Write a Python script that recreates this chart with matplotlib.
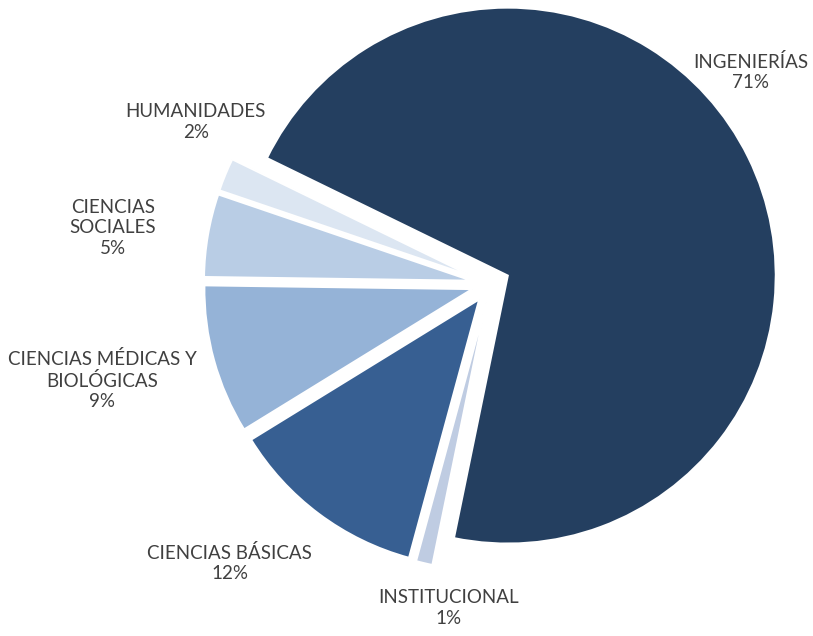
import matplotlib.pyplot as plt

plt.rcParams['font.family'] = ['Lato', 'DejaVu Sans']

labels = ['INGENIERÍAS', 'INSTITUCIONAL', 'CIENCIAS BÁSICAS',
          'CIENCIAS MÉDICAS Y\nBIOLÓGICAS', 'CIENCIAS\nSOCIALES', 'HUMANIDADES']
values = [71, 1, 12, 9, 5, 2]
colors = ['#243F60', '#BFCCE2', '#375F92', '#95B3D7', '#B9CDE5', '#DCE6F2']
explode = [0.071] * 6

# label centres in pie units (centre = 0,0 radius = 1)
label_x = [0.971, -0.159, -0.973, -1.450, -1.410, -1.100]
label_y = [0.791, -1.209, -1.041, -0.358, 0.209, 0.604]

fig = plt.figure(figsize=(8.13, 6.36), dpi=100)
ax = fig.add_axes([0, 0, 1, 1])

ax.pie(values, colors=colors, explode=explode, startangle=154,
       counterclock=False, radius=1,
       wedgeprops=dict(edgecolor='white', linewidth=1.5))

for lab, v, x, y in zip(labels, values, label_x, label_y):
    ax.text(x, y, f'{lab}\n{v}%', ha='center', va='center',
            fontsize=13.5, color='#404040', linespacing=1.25)

# pie centre at pixel (490.7, 284), radius 268 px
cx, cy, r = 490.7, 284, 268
ax.set_xlim(-cx / r, (813 - cx) / r)
ax.set_ylim((cy - 636) / r, cy / r)
ax.set_aspect('auto')
ax.axis('off')

fig.savefig('out.png', dpi=100, facecolor='white')
